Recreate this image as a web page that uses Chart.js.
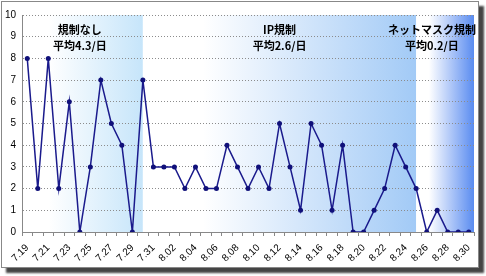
<!DOCTYPE html>
<html>
<head>
<meta charset="utf-8">
<script src="https://cdn.jsdelivr.net/npm/chart.js@4/dist/chart.umd.min.js"></script>
<style>
  body { margin: 0; background: #fff; }
  #frame {
    position: absolute; left: 1px; top: 1px;
    width: 476px; height: 265px;
    border: 1px solid #888; background: #fff;
    box-shadow: 5px 5px 2px #444;
  }
  canvas { display: block; }
</style>
</head>
<body>
<div id="frame"><canvas id="chart" width="476" height="265"></canvas></div>
<script>
// Dates (7/19 - 8/30)
const dates = [
    '7.19','7.20','7.21','7.22','7.23','7.24','7.25','7.26','7.27','7.28','7.29','7.30','7.31',
    '8.01','8.02','8.03','8.04','8.05','8.06','8.07','8.08','8.09','8.10','8.11','8.12','8.13',
    '8.14','8.15','8.16','8.17','8.18','8.19','8.20','8.21','8.22','8.23','8.24','8.25','8.26',
    '8.27','8.28','8.29','8.30'
];
// Daily counts
const counts = [
    8, 2, 8, 2, 6, 0, 3, 7, 5, 4, 0, 7, 3,
    3, 3, 2, 3, 2, 2, 4, 3, 2, 3, 2, 5, 3,
    1, 5, 4, 1, 4, 0, 0, 1, 2, 4, 3, 2, 0,
    1, 0, 0, 0
];
const yTicks = [0, 1, 2, 3, 4, 5, 6, 7, 8, 9, 10];

// Periods: start / end index, title, average text
const periods = [
    { from: 0, to: 11, title: '規制なし', avg: '平均4.3/日', labelAt: 5 },
    { from: 11, to: 37, title: 'IP規制', avg: '平均2.6/日', labelAt: 24 },
    { from: 37, to: 42, title: 'ネットマスク規制', avg: '平均0.2/日', labelAt: 38.5 }
];
const periodColors = ['#c6e5fa', '#a2caf6', '#5a8cf0'];

const backgroundPlugin = {
    id: 'periods',
    beforeDraw(chart) {
        const ctx = chart.ctx;
        const area = chart.chartArea;
        const x = chart.scales.x;
        ctx.save();
        periods.forEach((p, i) => {
            const x0 = i === 0 ? area.left : x.getPixelForValue(p.from);
            const x1 = i === periods.length - 1 ? area.right : x.getPixelForValue(p.to);
            const g = ctx.createLinearGradient(x0, 0, x1, 0);
            g.addColorStop(0, '#ffffff');
            g.addColorStop(0.22, '#ffffff');
            g.addColorStop(1, periodColors[i]);
            ctx.fillStyle = g;
            ctx.fillRect(x0, area.top, x1 - x0, area.bottom - area.top);
        });
        ctx.restore();
    },
    afterDraw(chart) {
        const ctx = chart.ctx;
        const x = chart.scales.x;
        const y = chart.scales.y;
        ctx.save();
        ctx.fillStyle = '#000';
        ctx.font = 'bold 11px "Noto Sans CJK JP"';
        ctx.textAlign = 'center';
        ctx.textBaseline = 'middle';
        periods.forEach(p => {
            const cx = x.getPixelForValue(p.labelAt);
            ctx.fillText(p.title, cx, y.getPixelForValue(9.3));
            ctx.fillText(p.avg, cx, y.getPixelForValue(8.6));
        });
        ctx.restore();
    }
};

const ctx = document.getElementById('chart').getContext('2d');
new Chart(ctx, {
    type: 'line',
    data: {
        labels: dates,
        datasets: [{
            data: counts,
            borderColor: '#1a1a8c',
            borderWidth: 1.5,
            backgroundColor: '#10107a',
            pointRadius: 2.5,
            pointBorderWidth: 0,
            tension: 0
        }]
    },
    options: {
        responsive: false,
        animation: false,
        layout: { padding: { top: 13, right: 4, left: 0, bottom: 0 } },
        plugins: { legend: { display: false }, tooltip: { enabled: false } },
        scales: {
            x: {
                offset: true,
                grid: { offset: true, drawOnChartArea: false, drawTicks: true, tickLength: 4, color: '#888' },
                border: { color: '#888' },
                ticks: {
                    autoSkip: false,
                    minRotation: 45,
                    maxRotation: 45,
                    padding: 6,
                    color: '#000',
                    font: { family: 'Arial, "Liberation Sans"', size: 10 },
                    callback: (v, i) => i % 2 === 0 ? dates[i] : ''
                },
                afterFit: s => { s.height = 35; s.paddingRight = 0; s.paddingLeft = 0; }
            },
            y: {
                min: 0,
                max: 10,
                afterBuildTicks: s => { s.ticks = yTicks.map(v => ({ value: v })); },
                grid: { color: '#8c8c8c', drawTicks: false },
                border: { color: '#888', dash: [1, 2] },
                ticks: {
                    padding: 6,
                    color: '#000',
                    font: { family: 'Arial, "Liberation Sans"', size: 10 }
                },
                afterFit: s => { s.width = 20; }
            }
        }
    },
    plugins: [backgroundPlugin]
});
</script>
</body>
</html>
